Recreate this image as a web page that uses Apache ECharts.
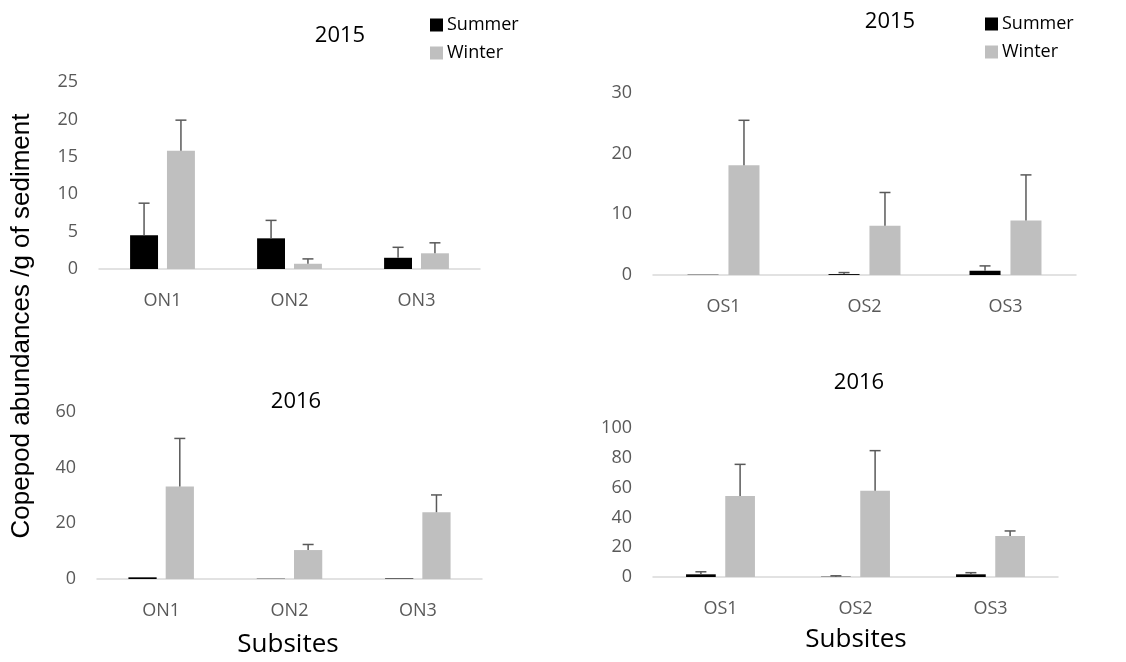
<!DOCTYPE html>
<html>
<head>
<meta charset="utf-8">
<script src="https://cdn.jsdelivr.net/npm/echarts@6/dist/echarts.min.js"></script>
<style>
  html, body { margin: 0; padding: 0; background: #fff; }
  #chart { width: 1126px; height: 662px; }
</style>
</head>
<body>
<div id="chart"></div>
<script>
// Copepod abundances per gram of sediment, by subsite, season and year
const northSites = ['ON1', 'ON2', 'ON3'];
const southSites = ['OS1', 'OS2', 'OS3'];

// 2015, northern subsites
const north2015Summer = [4.5, 4.1, 1.5];
const north2015SummerErr = [4.3, 2.4, 1.4];
const north2015Winter = [15.8, 0.7, 2.1];
const north2015WinterErr = [4.1, 0.65, 1.4];

// 2015, southern subsites
const south2015Summer = [0.05, 0.15, 0.7];
const south2015SummerErr = [0, 0.25, 0.8];
const south2015Winter = [18.1, 8.1, 9.0];
const south2015WinterErr = [7.4, 5.5, 7.5];

// 2016, northern subsites
const north2016Summer = [0.6, 0.1, 0.2];
const north2016SummerErr = [0, 0, 0];
const north2016Winter = [33.2, 10.4, 24.0];
const north2016WinterErr = [17.3, 2.0, 6.2];

// 2016, southern subsites
const south2016Summer = [1.8, 0.2, 1.8];
const south2016SummerErr = [1.7, 0.6, 1.1];
const south2016Winter = [54.4, 57.9, 27.5];
const south2016WinterErr = [21.2, 26.9, 3.4];

const seasons = ['Summer', 'Winter'];
const seasonColors = ['#000000', '#bfbfbf'];

const BAR_W = 0.22;   // bar width as a share of the category band
const BAR_GAP = 0.32; // gap between paired bars, share of bar width

const TICK_FONT = '"Open Sans", "Noto Sans", sans-serif';
const tickColor = '#595959';

const panels = [
  { cats: northSites, max: 25, interval: 5,  grid: { left: 99,  top: 82,  width: 381, height: 187 },
    values: [north2015Summer, north2015Winter], errs: [north2015SummerErr, north2015WinterErr] },
  { cats: southSites, max: 30, interval: 10, grid: { left: 653, top: 93,  width: 423, height: 182 },
    values: [south2015Summer, south2015Winter], errs: [south2015SummerErr, south2015WinterErr] },
  { cats: northSites, max: 60, interval: 20, grid: { left: 97,  top: 412, width: 385, height: 167 },
    values: [north2016Summer, north2016Winter], errs: [north2016SummerErr, north2016WinterErr] },
  { cats: southSites, max: 100, interval: 20, grid: { left: 653, top: 428, width: 405, height: 149 },
    values: [south2016Summer, south2016Winter], errs: [south2016SummerErr, south2016WinterErr] }
];

const grids = [], xAxes = [], yAxes = [], series = [];

panels.forEach((p, i) => {
  grids.push(Object.assign({ containLabel: false }, p.grid));
  xAxes.push({
    type: 'category', gridIndex: i, data: p.cats,
    axisLine: { lineStyle: { color: '#d9d9d9', width: 1.5 } },
    axisTick: { show: false },
    axisLabel: { color: tickColor, fontFamily: TICK_FONT, fontSize: 18, margin: 23 }
  });
  yAxes.push({
    type: 'value', gridIndex: i, min: 0, max: p.max, interval: p.interval,
    axisLine: { show: false }, axisTick: { show: false }, splitLine: { show: false },
    axisLabel: { color: tickColor, fontFamily: TICK_FONT, fontSize: 18, margin: 21 }
  });

  seasons.forEach((name, s) => {
    series.push({
      type: 'bar', name: name, xAxisIndex: i, yAxisIndex: i,
      data: p.values[s],
      barWidth: (BAR_W * 100) + '%',
      barGap: (BAR_GAP * 100) + '%',
      itemStyle: { color: seasonColors[s] },
      emphasis: { disabled: true },
      silent: true
    });
  });

  // error bars: upper whisker with a cap, placed on each season's bar
  seasons.forEach((name, s) => {
    const side = s === 0 ? -1 : 1;
    const offset = side * (BAR_W + BAR_W * BAR_GAP) / 2;
    series.push({
      type: 'custom', name: name + ' error', xAxisIndex: i, yAxisIndex: i,
      silent: true, z: 5,
      data: p.cats.map((c, k) => [k, p.values[s][k], p.errs[s][k]]),
      renderItem: function (params, api) {
        const k = api.value(0), v = api.value(1), e = api.value(2);
        if (!e) return null;
        const band = api.size([1, 0])[0];
        const cx = api.coord([k, 0])[0] + offset * band;
        const yBase = api.coord([k, v])[1];
        const yTop = api.coord([k, v + e])[1];
        const cap = 5.5;
        const style = { stroke: '#595959', lineWidth: 1.5, fill: null };
        return {
          type: 'group',
          children: [
            { type: 'line', shape: { x1: cx, y1: yBase, x2: cx, y2: yTop }, style: style },
            { type: 'line', shape: { x1: cx - cap, y1: yTop, x2: cx + cap, y2: yTop }, style: style }
          ]
        };
      }
    });
  });
});

const titleStyle = { fill: '#000', font: '22px "Open Sans", "Noto Sans", sans-serif', textAlign: 'center', textVerticalAlign: 'middle' };
const titles = [
  { text: '2015', x: 340, y: 36 },
  { text: '2015', x: 890, y: 22 },
  { text: '2016', x: 296, y: 402 },
  { text: '2016', x: 859, y: 383 }
];

const graphic = titles.map(t => ({ type: 'text', x: t.x, y: t.y, style: Object.assign({ text: t.text }, titleStyle), silent: true }));

graphic.push({
  type: 'text', x: 22, y: 326, rotation: Math.PI / 2, silent: true,
  style: { text: 'Copepod abundances /g of sediment', fill: '#000',
           font: '26px "Liberation Sans", Arial, sans-serif', textAlign: 'center', textVerticalAlign: 'middle' }
});
graphic.push({
  type: 'text', x: 288, y: 645, silent: true,
  style: { text: 'Subsites', fill: '#000', font: '26px "Open Sans", "Noto Sans", sans-serif', textAlign: 'center', textVerticalAlign: 'middle' }
});
graphic.push({
  type: 'text', x: 856, y: 640, silent: true,
  style: { text: 'Subsites', fill: '#000', font: '26px "Open Sans", "Noto Sans", sans-serif', textAlign: 'center', textVerticalAlign: 'middle' }
});

const legendBase = {
  orient: 'vertical', icon: 'rect', itemWidth: 13, itemHeight: 13, itemGap: 10, padding: 0,
  data: seasons, selectedMode: false,
  textStyle: { color: '#000', fontFamily: TICK_FONT, fontSize: 18, lineHeight: 18, padding: [0, 0, 0, -1] }
};

const chart = echarts.init(document.getElementById('chart'), null, { renderer: 'canvas' });
chart.setOption({
  backgroundColor: '#ffffff',
  animation: false,
  grid: grids,
  xAxis: xAxes,
  yAxis: yAxes,
  series: series,
  legend: [
    Object.assign({ left: 430, top: 16 }, legendBase),
    Object.assign({ left: 985, top: 15 }, legendBase)
  ],
  graphic: graphic
});
</script>
</body>
</html>
